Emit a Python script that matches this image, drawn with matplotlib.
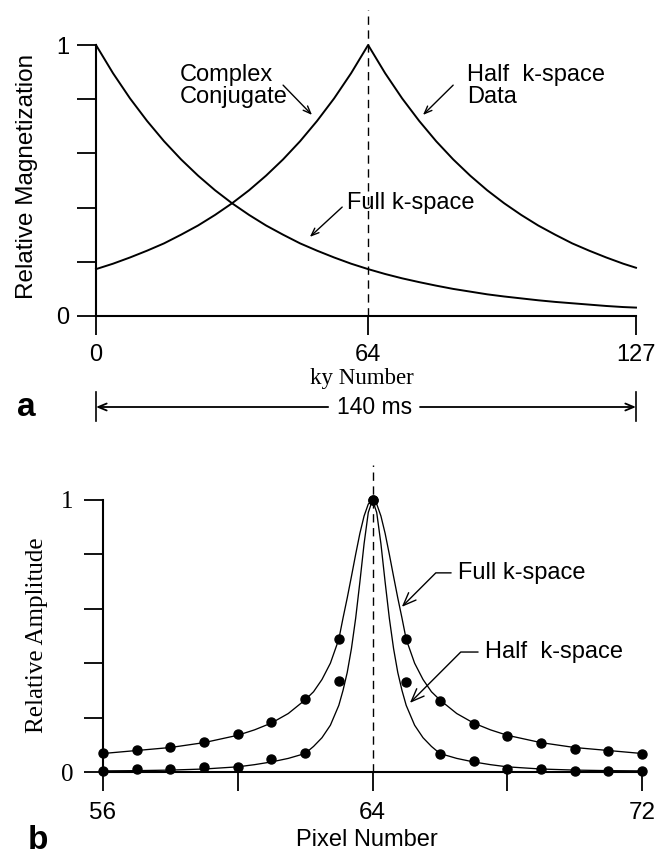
import matplotlib
matplotlib.use('Agg')
import matplotlib.pyplot as plt
import matplotlib.transforms as mtransforms
import numpy as np

# ---------------- data: panel a ----------------
ky = [0, 4, 8, 12, 16, 20, 24, 28, 32, 36, 40, 44, 48, 52, 56, 60, 64,
      68, 72, 76, 80, 84, 88, 92, 96, 100, 104, 108, 112, 116, 120, 124, 127]
full_kspace = [1.000, 0.896, 0.803, 0.720, 0.645, 0.578, 0.518, 0.464, 0.416,
               0.373, 0.334, 0.300, 0.268, 0.241, 0.216, 0.193, 0.173, 0.155,
               0.139, 0.125, 0.112, 0.100, 0.090, 0.080, 0.072, 0.065, 0.058,
               0.052, 0.047, 0.042, 0.037, 0.033, 0.031]
half_kspace = [0.173, 0.193, 0.216, 0.241, 0.268, 0.300, 0.334, 0.373, 0.416,
               0.464, 0.518, 0.578, 0.645, 0.720, 0.803, 0.896, 1.000, 0.896,
               0.803, 0.720, 0.645, 0.578, 0.518, 0.464, 0.416, 0.373, 0.334,
               0.300, 0.268, 0.241, 0.216, 0.193, 0.178]
ky_ticks = [0, 64, 127]
ky_center = 64
mag_ticks = [0, 0.2, 0.4, 0.6, 0.8, 1.0]
mag_labels = ['0', '', '', '', '', '1']

# ---------------- data: panel b ----------------
pixels = [56, 57, 58, 59, 60, 61, 62, 63, 64, 65, 66, 67, 68, 69, 70, 71, 72]
full_dots = [0.071, 0.081, 0.093, 0.111, 0.139, 0.183, 0.268, 0.488, 1.000,
             0.488, 0.262, 0.176, 0.132, 0.105, 0.086, 0.076, 0.065]
half_dots = [0.005, 0.010, 0.010, 0.017, 0.020, 0.047, 0.071, 0.336, 1.000,
             0.332, 0.066, 0.042, 0.012, 0.010, 0.005, 0.004, 0.003]
curve_offset = [0, 0.125, 0.25, 0.375, 0.5, 0.625, 0.75, 0.875, 1.0, 1.25, 1.5,
                1.75, 2.0, 2.5, 3.0, 3.5, 4.0, 5.0, 6.0, 7.0, 8.0]
full_curve = [1.0, 0.985, 0.941, 0.877, 0.80, 0.719, 0.64, 0.566, 0.488, 0.40,
              0.34, 0.295, 0.265, 0.215, 0.18, 0.155, 0.135, 0.108, 0.09, 0.079, 0.068]
half_curve = [1.0, 0.954, 0.839, 0.698, 0.565, 0.454, 0.366, 0.30, 0.245, 0.172,
              0.126, 0.094, 0.068, 0.05, 0.037, 0.027, 0.019, 0.011, 0.007, 0.005, 0.004]
pixel_center = 64
pixel_ticks = [56, 60, 64, 68, 72]
pixel_labels = ['56', '', '64', '', '72']
amp_ticks = [0, 0.2, 0.4, 0.6, 0.8, 1.0]
amp_labels = ['0', '', '', '', '', '1']

SANS = 'Liberation Sans'
SERIF = 'Liberation Serif'

W, H = 670, 855
fig = plt.figure(figsize=(W / 100, H / 100), dpi=100)


def fx(px):
    return px / W


def fy(py):
    return 1 - py / H


def style_axes(ax, xb, yb):
    for s in ['top', 'right']:
        ax.spines[s].set_visible(False)
    ax.spines['left'].set_bounds(*yb)
    ax.spines['bottom'].set_bounds(*xb)
    for s in ['left', 'bottom']:
        ax.spines[s].set_linewidth(1.5)
    ax.tick_params(direction='out', length=13.5, width=1.3, color='black')
    ax.set_facecolor('none')


# ================= panel a =================
ax1 = fig.add_axes([fx(96), fy(316), fx(636) - fx(96), (316 - 9.8) / H])
ax1.set_xlim(0, 127)
ax1.set_ylim(0, 1.13)
style_axes(ax1, (0, 127), (0, 1))
ax1.set_xticks(ky_ticks)
ax1.set_xticklabels([str(t) for t in ky_ticks], fontsize=17, fontfamily=SANS)
ax1.set_yticks(mag_ticks)
ax1.set_yticklabels(mag_labels, fontsize=17, fontfamily=SANS)
ax1.tick_params(axis='x', pad=7)
ax1.tick_params(axis='y', pad=6)

ax1.plot(ky, full_kspace, color='black', lw=1.4, clip_on=False)
ax1.plot(ky, half_kspace, color='black', lw=1.4, clip_on=False)
ax1.axvline(ky_center, ymin=0, ymax=1, color='black', lw=1.0, ls=(0, (6, 4)))

arrow_kw = dict(arrowstyle='->,head_length=0.55,head_width=0.22', lw=1.0,
                color='black', shrinkA=0, shrinkB=0)
ax1.text(19.8, 0.849, 'Complex\nConjugate', ha='left', va='center',
         fontsize=17, linespacing=1.05, family=SANS)
ax1.annotate('', xy=(50.8, 0.742), xytext=(44.0, 0.852), arrowprops=arrow_kw)
ax1.text(87.3, 0.849, 'Half  k-space\nData', ha='left', va='center',
         fontsize=17, linespacing=1.05, family=SANS)
ax1.annotate('', xy=(76.9, 0.742), xytext=(84.0, 0.852), arrowprops=arrow_kw)
ax1.text(59.0, 0.417, 'Full k-space', ha='left', va='center',
         fontsize=17, family=SANS)
ax1.annotate('', xy=(50.3, 0.292), xytext=(57.9, 0.402), arrowprops=arrow_kw)

fig.text(fx(362), fy(378), 'ky Number', ha='center', va='center',
         fontsize=16.5, family=SERIF)
fig.text(fx(27), fy(176), 'Relative Magnetization', ha='center', va='center',
         rotation=90, fontsize=17.5, family=SANS)
fig.text(fx(26), fy(407), 'a', ha='center', va='center', fontsize=24,
         fontweight='bold', family=SANS)

# 140 ms span
bt = mtransforms.blended_transform_factory(ax1.transData, fig.transFigure)
yspan = fy(407)
for xe in (0, 127):
    ax1.plot([xe, xe], [fy(392), fy(421)], transform=bt, color='black',
             lw=1.2, clip_on=False)
span_kw = dict(arrowstyle='->,head_length=0.6,head_width=0.25', lw=1.3,
               color='black', shrinkA=0, shrinkB=0)
ax1.annotate('', xy=(0, yspan), xytext=(54.6, yspan), xycoords=bt,
             textcoords=bt, arrowprops=span_kw, annotation_clip=False)
ax1.annotate('', xy=(127, yspan), xytext=(76.2, yspan), xycoords=bt,
             textcoords=bt, arrowprops=span_kw, annotation_clip=False)
ax1.text(65.4, yspan, '140 ms', transform=bt, ha='center', va='center',
         fontsize=16.5, family=SANS)

# ================= panel b =================
ax2 = fig.add_axes([fx(103), fy(772), fx(642) - fx(103), (772 - 464.6) / H])
ax2.set_xlim(56, 72)
ax2.set_ylim(0, 1.13)
style_axes(ax2, (56, 72), (0, 1))
ax2.set_xticks(pixel_ticks)
ax2.set_xticklabels(pixel_labels, fontsize=17.5, fontfamily=SANS)
ax2.set_yticks(amp_ticks)
ax2.set_yticklabels(amp_labels, fontsize=18, fontfamily=SERIF)
ax2.tick_params(axis='x', pad=8)
ax2.tick_params(axis='y', pad=8)

off = np.asarray(curve_offset)
x_curve = np.concatenate([pixel_center - off[::-1], pixel_center + off[1:]])
full_c = np.concatenate([np.asarray(full_curve)[::-1], np.asarray(full_curve)[1:]])
half_c = np.concatenate([np.asarray(half_curve)[::-1], np.asarray(half_curve)[1:]])
ax2.plot(x_curve, full_c, color='black', lw=0.95, clip_on=False)
ax2.plot(x_curve, half_c, color='black', lw=0.95, clip_on=False)
ax2.plot(pixels, full_dots, 'o', color='black', ms=6.5, clip_on=False, zorder=4)
ax2.plot(pixels, half_dots, 'o', color='black', ms=6.5, clip_on=False, zorder=4)
ax2.axvline(pixel_center, ymin=0, ymax=1, color='black', lw=1.0, ls=(0, (6, 4)))

lead_kw = dict(arrowstyle='->,head_length=0.55,head_width=0.22', lw=1.0,
               color='black', shrinkA=3, shrinkB=0,
               connectionstyle='angle,angleA=0,angleB=45,rad=0')
ax2.annotate('Full k-space', xy=(64.87, 0.607), xytext=(66.54, 0.732),
             ha='left', va='center', fontsize=17, family=SANS,
             arrowprops=lead_kw)
ax2.annotate('Half  k-space', xy=(65.11, 0.254), xytext=(67.34, 0.441),
             ha='left', va='center', fontsize=17, family=SANS,
             arrowprops=lead_kw)

fig.text(fx(367), fy(840), 'Pixel Number', ha='center', va='center',
         fontsize=17, family=SANS)
fig.text(fx(37), fy(635), 'Relative Amplitude', ha='center', va='center',
         rotation=90, fontsize=18, family=SERIF)
fig.text(fx(38), fy(840), 'b', ha='center', va='center', fontsize=24,
         fontweight='bold', family=SANS)

fig.savefig('out.png', dpi=100, facecolor='white')
